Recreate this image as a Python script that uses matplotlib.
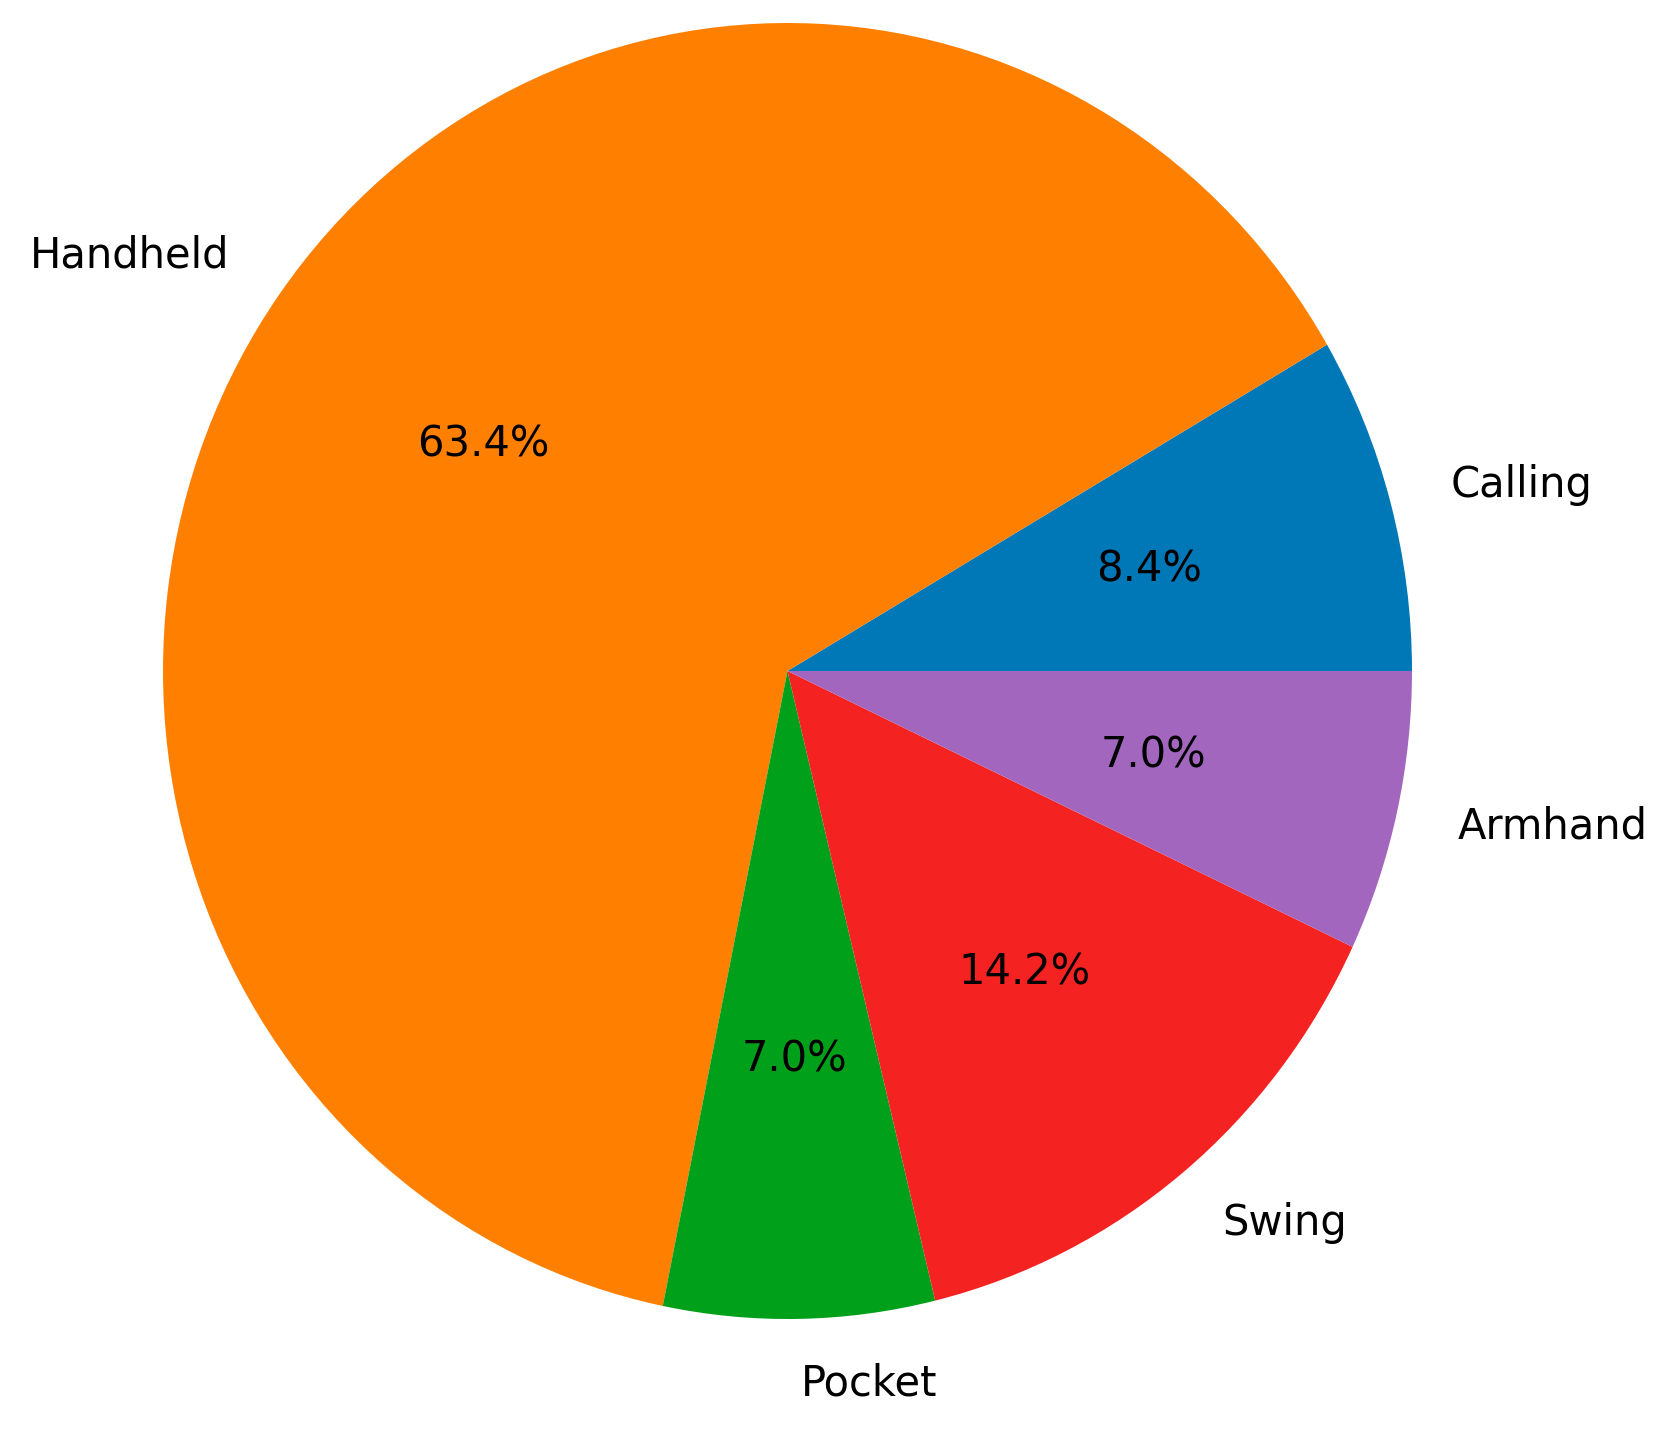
import matplotlib
matplotlib.use('Agg')
import matplotlib.pyplot as plt

# Placement share per category, counter-clockwise from 3 o'clock
labels = ['Calling', 'Handheld', 'Pocket', 'Swing', 'Armhand']
shares = [8.4, 63.4, 7.0, 14.2, 7.0]
colors = ['#0077b6', '#ff8000', '#00a01a', '#f52222', '#a366be']

W, H = 1675, 1432
fig = plt.figure(figsize=(W / 100, H / 100), dpi=100)

# pie box in pixels (the source image is slightly stretched vertically)
left, right, top, bottom = 163, 1412, 23, 1319
ax = fig.add_axes([left / W, (H - bottom) / H, (right - left) / W, (bottom - top) / H])

ax.pie(shares, labels=labels, colors=colors, autopct='%1.1f%%',
       startangle=0, counterclock=True,
       textprops={'fontsize': 30})
ax.set_aspect('auto')
ax.set_xlim(-1, 1)
ax.set_ylim(-1, 1)
ax.axis('off')

fig.savefig('out.png', dpi=100)
